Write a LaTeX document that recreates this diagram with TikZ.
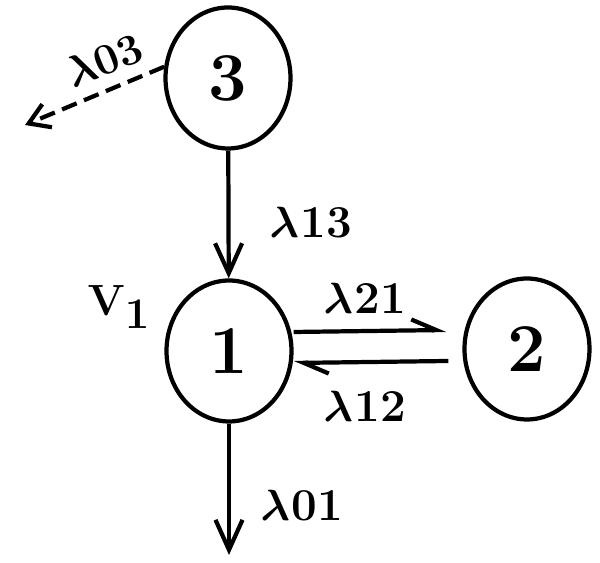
\documentclass[tikz,border=0pt]{standalone}
\usetikzlibrary{shapes.geometric,arrows.meta}
\newcommand{\lam}[1]{$\lambda$\kern1pt{\fontsize{26}{26}\selectfont #1}}
\begin{document}
\begin{tikzpicture}[x=0.02cm, y=0.02cm,
        state/.style={draw, ellipse, line width=2.4pt, minimum width=2.5cm,
            minimum height=2.82cm, inner sep=0pt,
            font=\fontsize{39}{39}\selectfont\bfseries},
        rate/.style={inner sep=0pt, font=\fontsize{36}{36}\selectfont\bfseries\boldmath},
        flow/.style={-{Straight Barb[length=6mm, width=5.4mm]}, line width=2.4pt},
        harp/.style={-{Straight Barb[harpoon, length=5mm, width=4.4mm]}, line width=2.4pt},
        loss/.style={-{Straight Barb[length=4mm, width=5mm]}, line width=2.4pt,
            dash pattern=on 9pt off 4.5pt}]
    \useasboundingbox (0,0) rectangle (600,563);
    % compartments
    \node[state] (s3) at (228,485) {3};
    \node[state] (s1) at (229,212) {1};
    \node[state] (s2) at (527,214) {2};
    \coordinate (out3) at (25,438);
    \coordinate (out1) at (229,8);
    % flows
    \draw[loss] (s3.170) -- (out3);
    \draw[flow] (s3) -- (s1);
    \draw[flow] (s1) -- (out1);
    \draw[harp] ([yshift=0.38cm]s1.east) -- ([yshift=0.38cm, xshift=-0.32cm]s2.west);
    \draw[harp] ([yshift=-0.24cm, xshift=-0.28cm]s2.west) -- ([yshift=-0.24cm]s1.east);
    % labels
    \node[rate, rotate=22] (l03) at (104,503) {$\lambda\mathbf{\scriptstyle 03}$};
    \node[rate] (l13) at (311,340) {\lam{13}};
    \node[rate] (l21) at (365,265) {\lam{21}};
    \node[rate] (l12) at (365,157) {\lam{12}};
    \node[rate] (l01) at (302,57) {\lam{01}};
    \node[rate] (v1) at (119,256) {$\mathbf{V}_{\mathbf{1}}$};
\end{tikzpicture}
\end{document}
